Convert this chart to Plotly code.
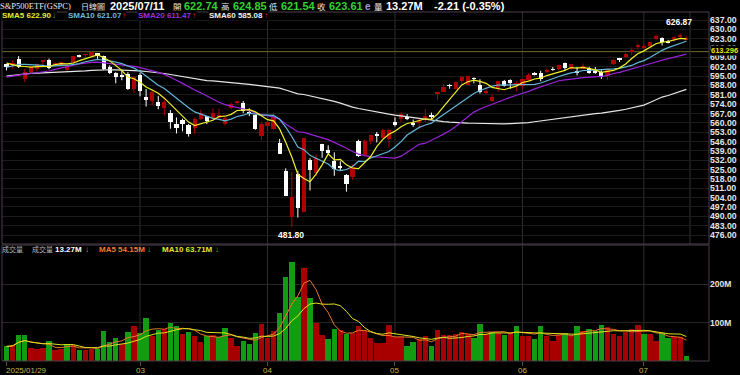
import numpy as np
import pandas as pd
import plotly.graph_objects as go

# ---------------- data ----------------
holidays = ["2025-02-17", "2025-04-18", "2025-05-26", "2025-06-19", "2025-07-04"]
dates = [d for d in pd.bdate_range("2025-01-29", "2025-07-11") if d.strftime("%Y-%m-%d") not in holidays]

# closes before the visible window (for moving averages)
prior_close = [568.64,
    571.04, 569.81, 576.70, 591.04, 595.61, 598.19, 598.76, 596.90, 597.19, 593.35,
    585.75, 588.15, 590.30, 590.50, 593.67, 595.51, 597.53, 600.65, 598.83, 602.55,
    603.63, 603.91, 607.66, 606.66, 607.81, 604.68, 602.80, 607.46, 604.33, 604.21,
    606.79, 604.29, 586.28, 586.10, 591.15, 594.69, 601.30, 601.34, 595.01, 588.22, 586.08,
    584.64, 591.95, 595.36, 588.63, 589.49, 580.49, 581.39, 582.19, 592.78, 591.64,
    597.58, 603.05, 606.44, 609.75, 607.97, 599.37, 604.52]

open_ = [603.72, 603.96, 607.50, 592.67, 597.83, 600.64, 605.99, 606.89, 604.03, 602.55,
    599.20, 604.44, 609.94, 610.88, 610.08, 612.12, 610.16, 602.02, 597.15, 595.93,
    596.85, 585.56, 596.18, 579.71, 576.69, 575.48, 570.90, 567.59, 559.40, 562.17,
    558.49, 556.11, 562.79, 564.80, 562.83, 563.33, 559.28, 570.80, 575.30, 575.19,
    567.18, 565.53, 549.83, 557.45, 555.05, 545.11, 523.67, 489.19, 521.61, 493.44,
    532.17, 522.80, 544.05, 539.67, 531.68, 527.64, 521.16, 519.11, 546.40, 535.79,
    546.64, 551.39, 548.91, 547.57, 560.37, 562.57, 563.61, 559.33, 560.18, 564.09,
    566.23, 581.47, 583.41, 587.81, 585.56, 591.25, 588.10, 593.09, 588.44, 582.66,
    575.98, 586.07, 591.47, 592.08, 588.76, 587.76, 592.34, 596.96, 597.63, 598.66,
    600.21, 600.18, 604.72, 600.01, 598.50, 600.35, 600.78, 598.29, 598.38, 595.04,
    604.33, 607.91, 608.99, 612.88, 617.38, 616.36, 617.24, 622.45, 623.36, 621.35,
    622.77, 624.20, 622.74]
high = [604.13, 606.60, 609.96, 600.28, 602.30, 604.37, 606.45, 608.13, 605.50, 605.86,
    604.55, 609.94, 610.99, 611.49, 613.23, 612.25, 610.30, 603.03, 597.89, 599.58,
    598.02, 594.72, 597.34, 585.39, 584.88, 580.17, 577.39, 569.54, 564.02, 563.11,
    559.11, 563.83, 569.71, 565.02, 570.95, 570.57, 564.89, 575.15, 576.41, 576.33,
    570.90, 566.27, 560.71, 562.94, 567.42, 547.97, 525.87, 523.17, 524.02, 548.62,
    533.50, 536.43, 544.28, 543.17, 537.89, 531.17, 521.70, 528.92, 547.41, 547.43,
    551.05, 553.22, 555.45, 555.45, 564.14, 568.00, 566.62, 562.41, 563.20, 570.19,
    567.69, 583.00, 589.08, 588.97, 590.97, 594.50, 595.54, 594.05, 592.59, 586.62,
    581.82, 591.31, 592.13, 592.56, 591.09, 592.79, 597.08, 597.95, 599.00, 600.83,
    601.75, 603.47, 605.06, 603.75, 601.85, 604.45, 601.95, 601.83, 599.46, 600.54,
    607.85, 608.61, 612.31, 616.39, 619.22, 618.83, 620.49, 626.28, 624.03, 622.11,
    624.72, 626.87, 624.85]
low = [599.22, 600.72, 601.05, 590.49, 597.28, 598.58, 602.63, 600.05, 602.74, 602.43,
    598.51, 603.20, 609.07, 608.38, 609.56, 607.97, 599.47, 596.49, 589.56, 591.86,
    584.65, 582.44, 579.90, 572.25, 573.08, 570.12, 565.63, 555.59, 552.02, 553.69,
    549.68, 551.49, 562.35, 559.06, 561.63, 562.60, 558.03, 570.20, 573.69, 567.19,
    564.94, 554.79, 546.87, 553.68, 554.81, 536.70, 505.06, 481.80, 489.09, 493.06,
    509.32, 520.07, 533.86, 536.52, 520.29, 523.91, 508.46, 517.44, 534.48, 535.18,
    543.82, 545.35, 548.55, 541.52, 557.28, 560.48, 562.02, 557.01, 556.04, 560.73,
    562.74, 577.04, 582.84, 585.54, 585.10, 589.28, 588.10, 589.60, 581.82, 581.41,
    575.60, 583.07, 587.11, 585.48, 583.79, 585.06, 591.85, 595.49, 591.05, 596.86,
    598.96, 599.06, 599.38, 599.52, 595.48, 600.22, 596.76, 596.69, 592.86, 591.89,
    603.41, 605.54, 608.37, 610.83, 615.04, 615.52, 616.61, 622.43, 617.87, 619.52,
    620.91, 623.01, 621.54]
close = [601.81, 605.04, 601.82, 597.77, 601.78, 604.22, 606.32, 600.77, 604.85, 605.31,
    603.36, 609.73, 609.70, 611.49, 612.93, 610.38, 599.94, 597.21, 594.24, 594.54,
    585.05, 594.18, 583.77, 576.86, 583.06, 572.71, 575.92, 560.58, 555.92, 558.87,
    551.42, 562.81, 567.15, 561.02, 567.13, 565.49, 563.98, 574.08, 575.46, 568.59,
    567.08, 555.66, 559.39, 560.97, 564.52, 536.70, 505.28, 504.38, 496.48, 548.62,
    524.58, 533.94, 539.12, 537.61, 525.66, 526.41, 513.88, 527.25, 535.42, 546.69,
    550.64, 550.85, 554.32, 554.54, 558.47, 566.76, 563.51, 558.80, 561.15, 565.06,
    564.34, 582.99, 586.84, 587.59, 590.46, 594.20, 594.85, 592.85, 582.86, 583.09,
    579.11, 591.15, 587.73, 590.05, 589.39, 592.71, 596.09, 595.93, 593.05, 599.14,
    599.68, 603.08, 601.36, 603.75, 597.00, 602.68, 597.53, 597.44, 594.28, 600.15,
    606.78, 607.12, 611.87, 614.91, 617.85, 617.65, 620.45, 625.34, 620.68, 620.34,
    624.06, 625.82, 623.61]
volume_m = [38, 40.6, 67, 67, 33.8, 31, 34.6, 51, 27.5, 30.6,
    44, 40.6, 27.5, 29, 31, 32, 76.8, 49.5, 59.6, 44,
    75, 89.7, 72.5, 111, 65.6, 81, 83, 100, 90, 71,
    75, 64, 49.5, 65.6, 66.4, 63, 84.6, 59.6, 39.8, 52.7,
    44, 72.5, 96.6, 59.6, 76.8, 126, 219, 257.6, 167, 242,
    163, 98.3, 68, 57, 83.8, 81.3, 71, 72.5, 91.5, 81,
    61, 48, 48, 94, 62, 62, 40, 49.5, 57, 65.6,
    38, 79.6, 68, 67, 69.8, 75, 69.8, 61, 96, 69.8,
    75, 72.5, 68, 72.5, 91.5, 64, 64, 58, 92, 66,
    52.7, 68, 74, 65.6, 89.7, 78.6, 83, 77, 94, 87.3,
    70, 64, 76, 82, 94, 70, 69, 51, 74, 59,
    63, 61.5, 13.27]

price_ticks = [476 + 7 * k for k in range(24)]
vol_ticks = [100, 200]
vol_tick_text = ["100M", "200M"]
ref_level = 613.296
labelled_months = ["03", "04", "05", "06", "07"]

# ---------------- derived ----------------
n = len(close)
idx = np.arange(n)
o = np.array(open_); h = np.array(high); l = np.array(low); c = np.array(close)
all_close = pd.Series(prior_close + close)
npre = len(prior_close)
sma = {w: all_close.rolling(w).mean().values[npre:] for w in (5, 10, 20, 60)}
vol = pd.Series(volume_m)
vma5 = vol.rolling(5, min_periods=1).mean().values
vma10 = vol.rolling(10, min_periods=1).mean().values
prev_c = np.array([prior_close[-1]] + close[:-1])

# ---------------- geometry ----------------
W, H = 740, 375
L, R, T, B = 2, 31, 12, 14
PW, PH = W - L - R, H - T - B
def px(x): return (x - L) / PW
def py(y): return (H - B - y) / PH
BAR = 6.07
x0 = -(6.5 - L) / BAR
x1 = x0 + PW / BAR
SCALE = 215 / 161.0
p_top = 637 + (20 - T) / SCALE
p_bot = 476 - (244 - 235) / SCALE
price_dom = [py(244), 1.0]
vol_dom = [0.0, py(245)]

RED = "#b00000"
WHITE = "#ffffff"
VRED = "#a80000"
VGREEN = "#119c11"
FONT = "Liberation Sans, Noto Sans CJK TC, sans-serif"
CJK = "Noto Sans CJK TC, sans-serif"

fig = go.Figure()

# wicks
up = c > o
for mask, col in ((up, RED), (~up, WHITE)):
    xs, ys = [], []
    for i in idx[mask]:
        xs += [i, i, None]; ys += [l[i], h[i], None]
    fig.add_trace(go.Scatter(x=xs, y=ys, mode="lines", line=dict(color=col, width=1),
                             xaxis="x", yaxis="y", hoverinfo="skip"))
# bodies
fig.add_trace(go.Bar(x=idx, y=np.maximum(np.abs(c - o), 0.6), base=np.minimum(o, c),
                     width=0.7, marker=dict(color=np.where(up, RED, WHITE), line=dict(width=0)),
                     xaxis="x", yaxis="y", hoverinfo="skip"))
# SMAs
for w, col in ((60, "#e6e6e6"), (20, "#9a22d8"), (10, "#62b6d8"), (5, "#f0f028")):
    fig.add_trace(go.Scatter(x=idx, y=sma[w], mode="lines", line=dict(color=col, width=1.2),
                             xaxis="x", yaxis="y", hoverinfo="skip"))

# volume
vcol = np.where(c >= prev_c, VRED, VGREEN)
fig.add_trace(go.Bar(x=idx, y=volume_m, width=0.9, marker=dict(color=vcol, line=dict(width=0)),
                     xaxis="x", yaxis="y2", hoverinfo="skip"))
fig.add_trace(go.Scatter(x=idx, y=vma5, mode="lines", line=dict(color="#e8782c", width=1),
                         xaxis="x", yaxis="y2", hoverinfo="skip"))
fig.add_trace(go.Scatter(x=idx, y=vma10, mode="lines", line=dict(color="#e2e21e", width=1),
                         xaxis="x", yaxis="y2", hoverinfo="skip"))

# month starts (only the labelled months)
month_idx = [i for i in range(1, n) if dates[i].month != dates[i - 1].month
             and dates[i].strftime("%m") in labelled_months]
month_lbl = [dates[i].strftime("%m") for i in month_idx]

shapes = []
for i in month_idx:
    shapes.append(dict(type="line", xref="x", yref="paper", x0=i, x1=i, y0=0, y1=1,
                       line=dict(color="#2e2e2e", width=1), layer="below"))
shapes.append(dict(type="line", xref="paper", yref="y", x0=0, x1=1, y0=ref_level, y1=ref_level,
                   line=dict(color="#6a6a2c", width=1), layer="below"))
shapes.append(dict(type="line", xref="paper", yref="paper", x0=px(690), x1=px(690),
                   y0=price_dom[0], y1=1, line=dict(color="#333333", width=1), layer="below"))
for dom in (price_dom, vol_dom):
    shapes.append(dict(type="rect", xref="paper", yref="paper", x0=0, x1=1, y0=dom[0], y1=dom[1],
                       line=dict(color="#4a3c4a", width=1), layer="above"))

anns = []
def ann(text, x, y, color, size, bold=False, family=FONT, xanchor="left", bg="rgba(0,0,0,0)"):
    anns.append(dict(text=text, x=px(x), y=py(y), xref="paper", yref="paper", xanchor=xanchor,
                     yanchor="middle", showarrow=False, borderpad=0, bgcolor=bg,
                     font=dict(color=color, size=size, family=family, weight="bold" if bold else "normal")))

GREEN_T = "#34d034"
# header row 1
ann("S&amp;P500ETF(GSPC)", -1, 6, "#e8e8e8", 8.5, family="Liberation Serif, serif")
ann("日線圖", 80, 6, "#e8e8e8", 8, family=CJK)
ann("2025/07/11", 109, 6, "#ffffff", 11, bold=True)
for lab, val, xl, xv in (("開", "622.74", 172, 183), ("高", "624.85", 220, 232),
                         ("低", "621.54", 268, 280), ("收", "623.61", 316, 328)):
    ann(lab, xl, 6, "#e8e8e8", 8.5, family=CJK)
    ann(val, xv, 6, GREEN_T, 11, bold=True)
ann("e", 364, 6, "#a898e8", 10, bold=True)
ann("量", 373, 6, "#e8e8e8", 8.5, family=CJK)
ann("13.27M", 385, 6, "#ffffff", 11, bold=True)
ann("-2.21 (-0.35%)", 433, 6, "#ffffff", 11, bold=True)
# header row 2
for txt, col, xt, xa, arr, acol in (("SMA5 622.90", "#e8e832", 1, 51, "↓", GREEN_T),
                                    ("SMA10 621.07", "#66bcdc", 67, 121, "↑", "#e02020"),
                                    ("SMA20 611.47", "#9a30dc", 137, 191, "↑", "#e02020"),
                                    ("SMA60 585.08", "#f0f0f0", 208, 263, "↑", "#e02020")):
    ann(txt, xt, 16, col, 8, bold=True, bg="#000000")
    ann(arr, xa, 16, acol, 8, bold=True, bg="#000000")
# volume header
ann("成交量", 1, 249, "#b8b8b8", 7, family=CJK)
ann("成交量", 31, 249, "#b8b8b8", 7, family=CJK)
ann("13.27M", 54, 249, "#ffffff", 8, bold=True)
ann("↓", 84, 249, GREEN_T, 8, bold=True)
ann("MA5 54.15M", 98, 249, "#f07a34", 8, bold=True)
ann("↓", 146, 249, GREEN_T, 8, bold=True)
ann("MA10 63.71M", 161, 249, "#e4e424", 8, bold=True)
ann("↓", 214, 249, GREEN_T, 8, bold=True)

# high / low labels
imax = int(np.argmax(h)); imin = int(np.argmin(l))
anns.append(dict(text=f"{h[imax]:.2f}", x=imax - 0.2, y=h[imax], xref="x", yref="y", yshift=5,
                 xanchor="center", yanchor="bottom", showarrow=False,
                 font=dict(color="#ffffff", size=8.5, family=FONT, weight="bold")))
anns.append(dict(text=f"{l[imin]:.2f}", x=imin - 0.1, y=l[imin], xref="x", yref="y", yshift=-1,
                 xanchor="center", yanchor="top", showarrow=False,
                 font=dict(color="#ffffff", size=8.5, family=FONT, weight="bold")))
# reference level label (covers part of the neighbouring tick label, as in the original)
anns.append(dict(text=f"{ref_level:.3f}", x=1, xshift=1, y=ref_level, yshift=1, xref="paper", yref="y",
                 xanchor="left", yanchor="middle", showarrow=False, bgcolor="#000000", borderpad=0,
                 font=dict(color="#e8e800", size=7.5, family=FONT, weight="bold")))
# x labels
XL = "#c8b450"
anns.append(dict(text=dates[0].strftime("%Y/%m/%d"), x=0, xshift=-3, y=py(370), xref="x", yref="paper",
                 xanchor="left", yanchor="middle", showarrow=False,
                 font=dict(color=XL, size=8, family=FONT)))
for i, lb in zip(month_idx, month_lbl):
    anns.append(dict(text=lb, x=i, y=py(370), xref="x", yref="paper", xanchor="center",
                     yanchor="middle", showarrow=False, font=dict(color=XL, size=8, family=FONT)))

fig.update_layout(
    width=W, height=H, margin=dict(l=L, r=R, t=T, b=B, autoexpand=False),
    paper_bgcolor="#000000", plot_bgcolor="#000000", showlegend=False, barmode="overlay",
    bargap=0, hovermode=False,
    xaxis=dict(domain=[0, 1], range=[x0, x1], anchor="y2", showgrid=False, zeroline=False,
               showticklabels=False, ticks="outside", ticklen=4, tickcolor="#5a4c5a",
               tickmode="array", tickvals=[0] + month_idx, showline=False, automargin=False),
    yaxis=dict(domain=price_dom, range=[p_bot, p_top], side="right", anchor="x",
               tickmode="array", tickvals=price_ticks, ticktext=[f"{v:.2f}" for v in price_ticks],
               showgrid=True, gridcolor="#1b1b1b", gridwidth=1, zeroline=False, ticks="",
               tickfont=dict(color="#e4e4e4", size=8.7, family=FONT, weight="bold"),
               showline=False, automargin=False),
    yaxis2=dict(domain=vol_dom, range=[0, 301.5], side="right", anchor="x",
                tickmode="array", tickvals=vol_ticks, ticktext=vol_tick_text,
                showgrid=True, gridcolor="#262626", gridwidth=1, zeroline=False, ticks="",
                tickfont=dict(color="#e4e4e4", size=8.5, family=FONT, weight="bold"),
                showline=False, automargin=False),
    shapes=shapes, annotations=anns,
)

fig.write_html("out.html", config={"displayModeBar": False})
